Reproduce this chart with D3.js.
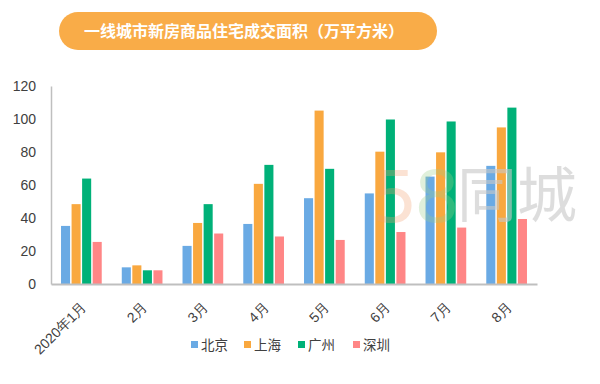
<!DOCTYPE html>
<html><head><meta charset="utf-8">
<script src="https://cdn.jsdelivr.net/npm/d3@7/dist/d3.min.js"></script>
<style>body{margin:0;background:#fff;}svg{display:block;font-family:"Noto Sans CJK SC","Noto Sans",sans-serif;}</style>
</head><body><svg id="c" width="600" height="384"></svg>
<script>
const title = "一线城市新房商品住宅成交面积（万平方米）";
const categories = ["2020年1月","2月","3月","4月","5月","6月","7月","8月"];
const seriesNames = ["北京","上海","广州","深圳"];
const beijing  = [35.2, 10.1, 23.1, 36.4, 52.0, 54.9, 65.1, 71.6];
const shanghai = [48.4, 11.3, 37.0, 60.7, 105.1, 80.2, 79.8, 94.9];
const guangzhou= [63.9, 8.3, 48.4, 72.2, 69.8, 99.7, 98.5, 106.9];
const shenzhen = [25.5, 8.3, 30.6, 28.8, 26.7, 31.5, 34.2, 39.4];
const yTicks = [0,20,40,60,80,100,120];
const colors = ["#6aaae4","#f9a83f","#00b178","#ff8686"];

const series = [beijing, shanghai, guangzhou, shenzhen];
const svg = d3.select("#c");

// title pill
svg.append("rect").attr("x",59).attr("y",12).attr("width",378).attr("height",38)
  .attr("rx",19).attr("fill","#f9ac48");
svg.append("text").attr("x",244).attr("y",37).attr("text-anchor","middle")
  .attr("fill","#fff").attr("font-size",16).attr("font-weight","bold").text(title);

const pL=51, pR=537, pT=86, pB=284;
const x = d3.scaleBand().domain(categories).range([pL,pR]).paddingInner(0.33).paddingOuter(0.165);
const xs = d3.scaleBand().domain(seriesNames).range([0,x.bandwidth()]).paddingInner(0.14);
const y = d3.scaleLinear().domain([0,120]).range([pB,pT]);

// bars
const g = svg.append("g");
categories.forEach((c,i)=>{
  series.forEach((s,j)=>{
    g.append("rect").attr("x",x(c)+xs(seriesNames[j])).attr("y",y(s[i]))
      .attr("width",xs.bandwidth()).attr("height",y(0)-y(s[i]))
      .attr("fill",colors[j]);
  });
});

// watermark (drawn over bars, translucent)
const wm = svg.append("g");
wm.append("text").attr("x",372).attr("y",222).attr("font-size",72).attr("font-family","DejaVu Sans")
  .attr("fill","#f4a070").attr("opacity",0.3).text("5");
wm.append("text").attr("x",414).attr("y",222).attr("font-size",72).attr("font-family","DejaVu Sans")
  .attr("fill","#9ccf8a").attr("opacity",0.3).text("8");
wm.append("text").attr("x",457).attr("y",217).attr("font-size",60)
  .attr("fill","#c8c8c8").attr("opacity",0.6).text("同城");

// y axis
const ya = svg.append("g").attr("transform",`translate(${pL},0)`)
  .call(d3.axisLeft(y).tickValues(yTicks).tickSize(0).tickPadding(15));
ya.select(".domain").attr("stroke","#bfbfbf").attr("stroke-width",1.5);
ya.selectAll("text").attr("font-size",14).attr("fill","#404040").attr("font-family","Liberation Sans, Noto Sans, sans-serif");

// x axis
const xa = svg.append("g").attr("transform",`translate(0,${pB})`)
  .call(d3.axisBottom(x).tickSize(0).tickPadding(0));
xa.select(".domain").attr("stroke","#bfbfbf").attr("stroke-width",2);
xa.selectAll("text").attr("font-size",14).attr("fill","#404040")
  .attr("text-anchor","end").attr("dy",0)
  .attr("transform","translate(6,24) rotate(-45)");

// legend
const lg = svg.append("g");
const lx = [191,244,298,353];
seriesNames.forEach((n,j)=>{
  lg.append("rect").attr("x",lx[j]).attr("y",341).attr("width",7).attr("height",7).attr("fill",colors[j]);
  lg.append("text").attr("x",lx[j]+10).attr("y",350).attr("font-size",13.5)
    .attr("fill","#404040").text(n);
});
</script></body></html>
